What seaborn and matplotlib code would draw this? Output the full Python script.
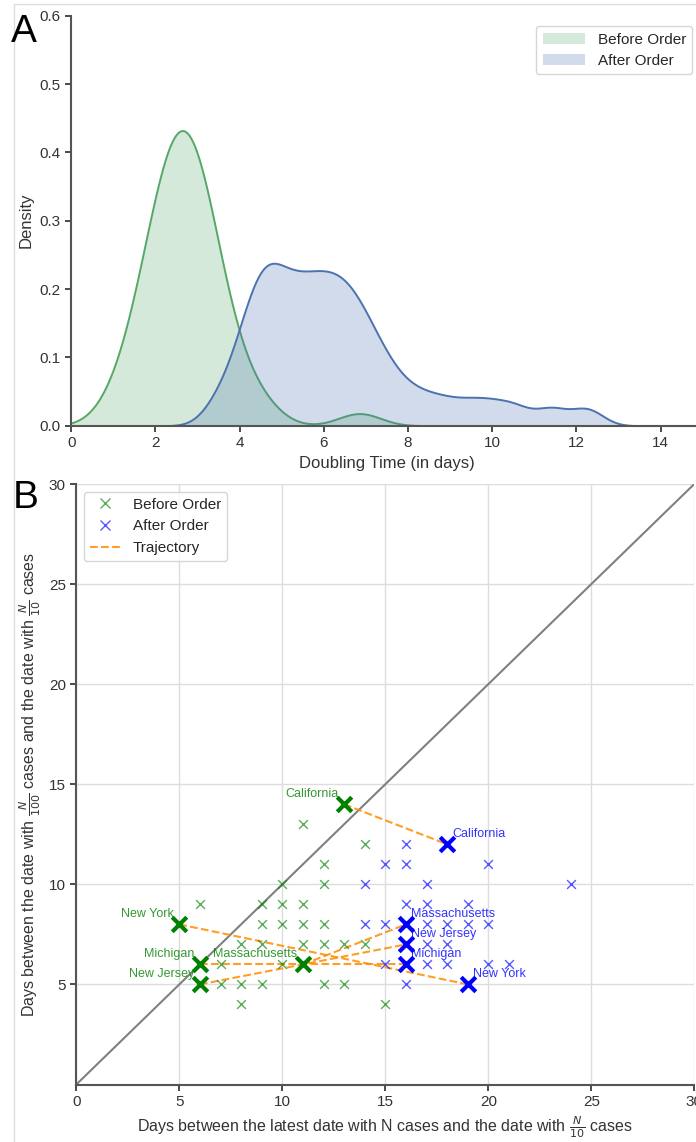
import numpy as np
import pandas as pd
import matplotlib
matplotlib.use("Agg")
import matplotlib.pyplot as plt
from matplotlib.lines import Line2D
from matplotlib.patches import Patch
import seaborn as sns

# ---------------- Panel A data: doubling times (days) ----------------
before_doubling = [0.94, 1.29, 1.47, 1.59, 1.70, 1.79, 1.87, 1.94, 2.00, 2.06, 2.12,
                   2.17, 2.22, 2.27, 2.32, 2.37, 2.41, 2.46, 2.50, 2.54, 2.59, 2.63,
                   2.67, 2.72, 2.76, 2.80, 2.84, 2.89, 2.93, 2.98, 3.03, 3.08, 3.13,
                   3.18, 3.24, 3.30, 3.36, 3.43, 3.51, 3.62, 3.76, 3.95, 4.20, 4.60,
                   6.85]
after_doubling = [3.45, 3.82, 4.02, 4.16, 4.27, 4.37, 4.46, 4.54, 4.62, 4.70, 4.78,
                  4.87, 4.97, 5.07, 5.17, 5.27, 5.37, 5.47, 5.57, 5.67, 5.77, 5.86,
                  5.96, 6.06, 6.15, 6.25, 6.35, 6.44, 6.54, 6.64, 6.75, 6.86, 6.98,
                  7.12, 7.27, 7.46, 7.69, 8.02, 8.43, 8.90, 9.45, 9.97, 10.55, 11.40,
                  12.25]

# ---------------- Panel B data ----------------
before_x = [11, 14, 12, 10, 12, 6, 9, 10, 11, 9, 10, 11, 12, 8, 9, 11, 12, 13, 14,
            7, 10, 7, 8, 9, 12, 13, 8, 15]
before_y = [13, 12, 11, 10, 10, 9, 9, 9, 9, 8, 8, 8, 8, 7, 7, 7, 7, 7, 7,
            6, 6, 5, 5, 5, 5, 5, 4, 4]
after_x = [16, 15, 16, 20, 14, 17, 24, 16, 17, 19, 14, 15, 17, 18, 19, 20, 17, 18,
           15, 17, 18, 20, 21, 16]
after_y = [12, 11, 11, 11, 10, 10, 10, 9, 9, 9, 8, 8, 8, 8, 8, 8, 7, 7,
           6, 6, 6, 6, 6, 5]

states = ["California", "New York", "Michigan", "New Jersey", "Massachusetts"]
state_before_x = [13, 5, 6, 6, 11]
state_before_y = [14, 8, 6, 5, 6]
state_after_x = [18, 19, 16, 16, 16]
state_after_y = [12, 5, 6, 7, 8]

# ---------------- Style ----------------
sns.set_theme(style="ticks")
plt.rcParams['font.family'] = ['Liberation Sans', 'DejaVu Sans']
deep = sns.color_palette("deep")
c_before = deep[2]
c_after = deep[0]

W, H = 696, 1142
fig = plt.figure(figsize=(W / 100, H / 100), dpi=100)

# ---------------- Panel A ----------------
axA = fig.add_axes([71.2 / W, 1 - 425.7 / H, (702.7 - 71.2) / W, 410 / H])
h_before, h_after = 0.5, 0.38
sns.kdeplot(x=before_doubling, fill=True, color=c_before, alpha=0.25, linewidth=1.4,
            bw_method=h_before / np.std(before_doubling, ddof=1), ax=axA)
sns.kdeplot(x=after_doubling, fill=True, color=c_after, alpha=0.25, linewidth=1.4,
            bw_method=h_after / np.std(after_doubling, ddof=1), ax=axA)
axA.set_xlim(0, 15)
axA.set_ylim(0, 0.6)
axA.set_xticks(range(0, 16, 2))
axA.set_yticks([0.0, 0.1, 0.2, 0.3, 0.4, 0.5, 0.6])
axA.set_xlabel("Doubling Time (in days)", fontsize=12, color='#333333')
axA.set_ylabel("Density", fontsize=12, color='#333333')
axA.tick_params(labelsize=11, colors='#333333', length=4)
for s in ['left', 'bottom']:
    axA.spines[s].set_color('#555555')
    axA.spines[s].set_linewidth(1.5)
sns.despine(ax=axA)
axA.legend(handles=[Patch(facecolor=c_before, alpha=0.25, edgecolor='none', label="Before Order"),
                    Patch(facecolor=c_after, alpha=0.25, edgecolor='none', label="After Order")],
           loc='upper right', fontsize=11, handlelength=2.8, borderaxespad=0.7)

# ---------------- Panel B ----------------
axB = fig.add_axes([76.3 / W, 1 - 1084.5 / H, 618 / W, 600.5 / H])
axB.set_axisbelow(True)
axB.grid(True, color='#dddddd', linewidth=1)
axB.plot([0, 30], [0, 30], color='#808080', linewidth=1.5, zorder=1)

for bx, by, ax_, ay in zip(state_before_x, state_before_y, state_after_x, state_after_y):
    axB.plot([bx, ax_], [by, ay], linestyle='--', color='darkorange', alpha=0.85,
             linewidth=1.5, zorder=2)

sns.scatterplot(x=before_x, y=before_y, marker='x', color='green', alpha=0.65, s=40,
                linewidth=1.0, ax=axB, legend=False, zorder=3)
sns.scatterplot(x=after_x, y=after_y, marker='x', color='blue', alpha=0.65, s=40,
                linewidth=1.0, ax=axB, legend=False, zorder=3)
sns.scatterplot(x=state_before_x, y=state_before_y, marker='x', color='green', s=110,
                linewidth=3, ax=axB, legend=False, zorder=4)
sns.scatterplot(x=state_after_x, y=state_after_y, marker='x', color='blue', s=110,
                linewidth=3, ax=axB, legend=False, zorder=4)

for name, x, y in zip(states, state_before_x, state_before_y):
    axB.annotate(name, (x, y), xytext=(-4, 3), textcoords='offset points', ha='right',
                 va='bottom', color='green', alpha=0.8, fontsize=9)
for name, x, y in zip(states, state_after_x, state_after_y):
    axB.annotate(name, (x, y), xytext=(4, 3), textcoords='offset points', ha='left',
                 va='bottom', color='blue', alpha=0.8, fontsize=9)

axB.set_xlim(0, 30)
axB.set_ylim(0, 30)
axB.set_xticks([0, 5, 10, 15, 20, 25, 30])
axB.set_yticks([5, 10, 15, 20, 25, 30])
axB.tick_params(labelsize=11, colors='#333333', length=4)
for s in ['left', 'bottom']:
    axB.spines[s].set_color('#555555')
    axB.spines[s].set_linewidth(1.5)
sns.despine(ax=axB)
axB.set_xlabel(r"Days between the latest date with N cases and the date with $\frac{N}{10}$ cases",
               fontsize=11.5, color='#333333')
axB.set_ylabel(r"Days between the date with $\frac{N}{100}$ cases and the date with $\frac{N}{10}$ cases",
               fontsize=11.5, color='#333333')
axB.legend(handles=[Line2D([0], [0], marker='x', ls='None', color='green', alpha=0.65,
                           markersize=6.5, mew=1, label="Before Order"),
                    Line2D([0], [0], marker='x', ls='None', color='blue', alpha=0.65,
                           markersize=6.5, mew=1, label="After Order"),
                    Line2D([0], [0], ls='--', color='darkorange', alpha=0.85, lw=1.5,
                           label="Trajectory")],
           loc='upper left', fontsize=11)

# panel letters and faint frame
fig.text(11 / W, 1 - 14 / H, "A", fontsize=28, va='top', ha='left', color='black')
fig.text(13 / W, 1 - 480 / H, "B", fontsize=28, va='top', ha='left', color='black')
fig.add_artist(Line2D([14 / W, 1], [1 - 4 / H, 1 - 4 / H], transform=fig.transFigure,
                      color='#dddddd', lw=1))
fig.add_artist(Line2D([14 / W, 14 / W], [0, 1 - 4 / H], transform=fig.transFigure,
                      color='#dddddd', lw=1))

fig.savefig("out.png", dpi=100)
